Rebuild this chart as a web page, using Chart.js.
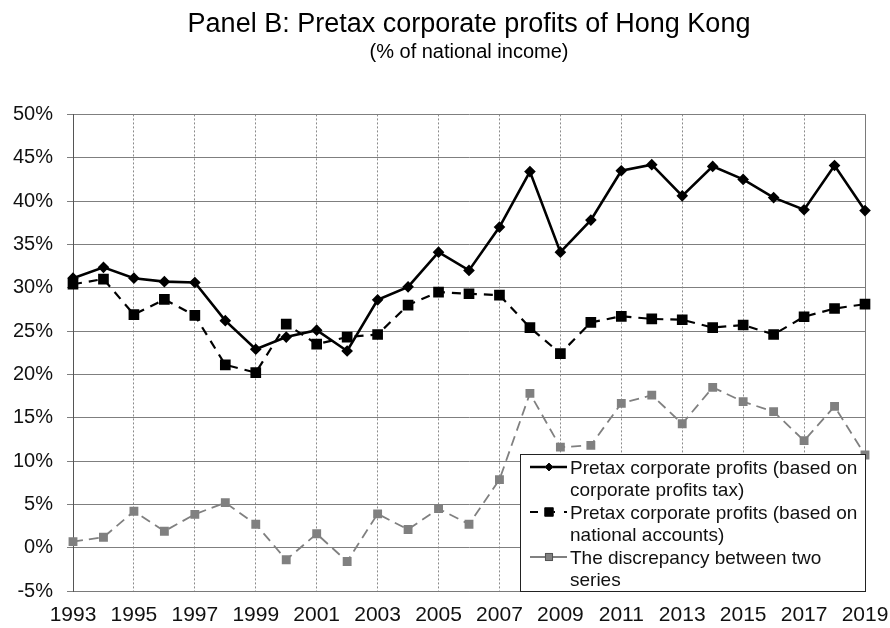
<!DOCTYPE html>
<html>
<head>
<meta charset="utf-8">
<script src="https://cdn.jsdelivr.net/npm/chart.js@4.4.1/dist/chart.umd.min.js"></script>
<style>
    html, body { margin: 0; padding: 0; background: #fff; }
    #contenedor { width: 890px; height: 628px; position: relative; }
</style>
</head>
<body>
<div id="contenedor"><canvas id="graficaBeneficios"></canvas></div>
<script>
// Datos (% de la renta nacional)
const anios = ['1993', '1994', '1995', '1996', '1997', '1998', '1999', '2000', '2001', '2002',
    '2003', '2004', '2005', '2006', '2007', '2008', '2009', '2010', '2011', '2012',
    '2013', '2014', '2015', '2016', '2017', '2018', '2019'];

const beneficiosImpuesto = [31.1, 32.35, 31.1, 30.7, 30.6, 26.2, 22.9, 24.3, 25.1, 22.7,
    28.6, 30.1, 34.1, 32.0, 37.0, 43.4, 34.1, 37.8, 43.5, 44.2,
    40.6, 44.0, 42.5, 40.4, 39.0, 44.1, 38.9];

const beneficiosCuentas = [30.4, 31.0, 26.9, 28.65, 26.8, 21.1, 20.2, 25.8, 23.5, 24.3,
    24.6, 28.0, 29.5, 29.3, 29.15, 25.4, 22.4, 26.0, 26.7, 26.4,
    26.3, 25.4, 25.7, 24.6, 26.65, 27.6, 28.1];

const discrepancia = [0.7, 1.2, 4.2, 1.9, 3.85, 5.2, 2.7, -1.4, 1.6, -1.6,
    3.9, 2.1, 4.5, 2.7, 7.85, 17.8, 11.6, 11.8, 16.65, 17.6,
    14.3, 18.5, 16.85, 15.7, 12.35, 16.3, 10.7];

const ticksY = [-5, 0, 5, 10, 15, 20, 25, 30, 35, 40, 45, 50];

const textosLeyenda = [
    ['Pretax corporate profits (based on', 'corporate profits tax)'],
    ['Pretax corporate profits (based on', 'national accounts)'],
    ['The discrepancy between two', 'series']
];

const tituloPrincipal = 'Panel B: Pretax corporate profits of Hong Kong';
const subtitulo = '(% of national income)';

Chart.defaults.font.family = "'Liberation Sans', Arial, sans-serif";
Chart.defaults.color = '#111';

// marco derecho del area de trazado
const marcoDerecho = {
    id: 'marcoDerecho',
    beforeDatasetsDraw(chart) {
        const { ctx, chartArea } = chart;
        ctx.save();
        ctx.strokeStyle = '#7a7a7a';
        ctx.lineWidth = 1;
        ctx.beginPath();
        ctx.moveTo(Math.round(chartArea.right) + 0.5, chartArea.top);
        ctx.lineTo(Math.round(chartArea.right) + 0.5, chartArea.bottom);
        ctx.stroke();
        ctx.restore();
    }
};

// leyenda dentro del grafico, abajo a la derecha, con texto en dos lineas
const leyendaCaja = {
    id: 'leyendaCaja',
    afterDatasetsDraw(chart) {
        const { ctx, chartArea } = chart;
        const ancho = 345, alto = 137;
        const x0 = Math.round(chartArea.right) - ancho;
        const y0 = Math.round(chartArea.bottom) - alto;

        ctx.save();
        ctx.fillStyle = '#fff';
        ctx.fillRect(x0, y0, ancho, alto);
        ctx.strokeStyle = '#222';
        ctx.lineWidth = 1;
        ctx.strokeRect(x0 + 0.5, y0 + 0.5, ancho, alto);

        ctx.font = "19px 'Liberation Sans', Arial, sans-serif";
        ctx.fillStyle = '#111';
        ctx.textAlign = 'left';
        ctx.textBaseline = 'alphabetic';

        const bases = [[20, 42], [65, 87], [110, 132]];
        chart.data.datasets.forEach((ds, i) => {
            const yl = y0 + bases[i][0] - 7;
            ctx.save();
            ctx.strokeStyle = ds.borderColor;
            ctx.lineWidth = ds.borderWidth;
            ctx.setLineDash(ds.legendDash || []);
            ctx.beginPath();
            ctx.moveTo(x0 + 10, yl);
            ctx.lineTo(x0 + 47, yl);
            ctx.stroke();
            ctx.restore();
            Chart.helpers.drawPoint(ctx, {
                pointStyle: ds.pointStyle,
                radius: ds.pointRadius,
                rotation: 0,
                borderWidth: 1
            }, x0 + 29, yl);
            ctx.fillStyle = ds.pointBackgroundColor;
            ctx.fill();
            ctx.fillStyle = '#111';
            textosLeyenda[i].forEach((t, k) => {
                ctx.fillText(t, x0 + 50, y0 + bases[i][k]);
            });
        });
        ctx.restore();
    }
};

const ctxBeneficios = document.getElementById('graficaBeneficios').getContext('2d');
const graficaBeneficios = new Chart(ctxBeneficios, {
    type: 'line',
    data: {
        labels: anios,
        datasets: [{
            label: textosLeyenda[0].join(' '), data: beneficiosImpuesto,
            borderColor: '#000', borderWidth: 2.6, tension: 0,
            pointStyle: 'rectRot', pointRadius: 4, pointBackgroundColor: '#000', pointBorderColor: '#000',
            legendDash: [], clip: 10
        }, {
            label: textosLeyenda[1].join(' '), data: beneficiosCuentas,
            borderColor: '#000', borderWidth: 2.2, borderDash: [9, 7], tension: 0,
            pointStyle: 'rect', pointRadius: 6, pointBackgroundColor: '#000', pointBorderColor: '#000',
            legendDash: [8, 9], clip: 10
        }, {
            label: textosLeyenda[2].join(' '), data: discrepancia,
            borderColor: '#808080', borderWidth: 1.8, borderDash: [10, 6], tension: 0,
            pointStyle: 'rect', pointRadius: 5, pointBackgroundColor: '#808080', pointBorderColor: '#808080',
            legendDash: [], clip: 10
        }]
    },
    options: {
        responsive: true, maintainAspectRatio: false, animation: false,
        layout: { padding: { left: 0, right: 25, top: 0, bottom: 0 } },
        plugins: {
            legend: { display: false },
            tooltip: { enabled: false },
            title: {
                display: true, text: tituloPrincipal, fullSize: false, color: '#000',
                font: { size: 27, weight: 'normal' }, padding: { top: 8, bottom: 0 }
            },
            subtitle: {
                display: true, text: subtitulo, fullSize: false, color: '#000',
                font: { size: 20, weight: 'normal' }, padding: { top: 0, bottom: 50 }
            }
        },
        scales: {
            x: {
                offset: false,
                grid: {
                    drawTicks: false, lineWidth: 1,
                    color: (c) => (c.index % 2 === 0 ? '#8a8a8a' : 'rgba(0,0,0,0)')
                },
                border: { display: true, color: '#7a7a7a', dash: [2, 2] },
                ticks: {
                    autoSkip: false, maxRotation: 0, padding: 12, color: '#111',
                    font: { size: 21 },
                    callback: function (value, index) {
                        return index % 2 === 0 ? anios[index] : '';
                    }
                },
                afterFit: (scale) => {
                    scale.height = 37;
                    scale.paddingLeft = 0;
                    scale.paddingRight = 0;
                }
            },
            y: {
                min: ticksY[0], max: ticksY[ticksY.length - 1],
                afterBuildTicks: (scale) => { scale.ticks = ticksY.map(v => ({ value: v })); },
                grid: { color: '#7f7f7f', lineWidth: 1, tickLength: 6 },
                border: { display: true, color: '#555' },
                ticks: {
                    padding: 14, color: '#111', font: { size: 20 },
                    callback: (v) => v + '%'
                },
                afterFit: (scale) => {
                    scale.width = 73;
                    scale.paddingTop = 0;
                    scale.paddingBottom = 0;
                }
            }
        }
    },
    plugins: [marcoDerecho, leyendaCaja]
});
</script>
</body>
</html>
